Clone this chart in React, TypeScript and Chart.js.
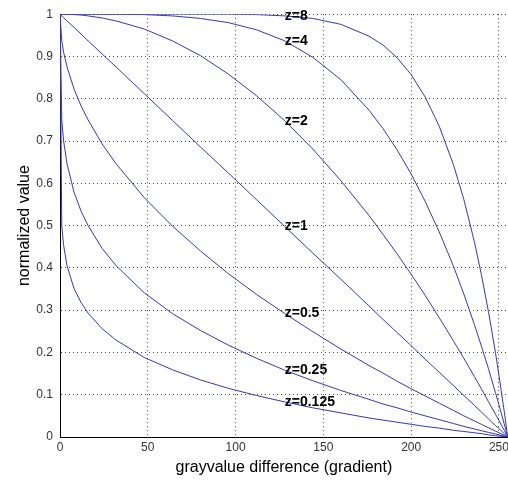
import React, { useEffect, useRef } from "react";
import { Chart, registerables } from "chart.js";

Chart.register(...registerables);

// x positions (grayvalue difference) at which values were read
const xValues = [0, 1, 2, 4, 8, 12, 16, 24, 32, 48, 64, 80, 96, 112, 128, 144, 160, 176, 184, 192, 200, 208, 216, 224, 230, 236, 240, 244, 248, 250, 253, 255];

const seriesZ8 = [1, 1, 1, 1, 1, 1, 1, 1, 1, 1, 1, 1, 1.0, 0.999, 0.996, 0.99, 0.976, 0.948, 0.927, 0.897, 0.857, 0.804, 0.735, 0.645, 0.562, 0.462, 0.384, 0.297, 0.2, 0.146, 0.061, 0];
const seriesZ4 = [1, 1, 1, 1, 1, 1, 1, 1, 1.0, 0.999, 0.996, 0.99, 0.98, 0.963, 0.937, 0.898, 0.845, 0.773, 0.729, 0.679, 0.622, 0.557, 0.485, 0.405, 0.338, 0.266, 0.215, 0.162, 0.105, 0.076, 0.031, 0];
const seriesZ2 = [1, 1, 1, 1, 0.999, 0.998, 0.996, 0.991, 0.984, 0.965, 0.937, 0.902, 0.858, 0.807, 0.748, 0.681, 0.606, 0.524, 0.479, 0.433, 0.385, 0.335, 0.282, 0.228, 0.186, 0.143, 0.114, 0.084, 0.054, 0.039, 0.016, 0];
const seriesZ1 = [1, 0.996, 0.992, 0.984, 0.969, 0.953, 0.937, 0.906, 0.875, 0.812, 0.749, 0.686, 0.624, 0.561, 0.498, 0.435, 0.373, 0.31, 0.278, 0.247, 0.216, 0.184, 0.153, 0.122, 0.098, 0.075, 0.059, 0.043, 0.027, 0.02, 0.008, 0];
const seriesZ05 = [1, 0.937, 0.911, 0.875, 0.823, 0.783, 0.75, 0.693, 0.646, 0.566, 0.499, 0.44, 0.386, 0.337, 0.292, 0.249, 0.208, 0.169, 0.151, 0.132, 0.114, 0.097, 0.08, 0.063, 0.05, 0.038, 0.03, 0.022, 0.014, 0.01, 0.004, 0];
const seriesZ025 = [1, 0.75, 0.702, 0.646, 0.579, 0.534, 0.5, 0.446, 0.405, 0.341, 0.292, 0.252, 0.217, 0.186, 0.158, 0.133, 0.11, 0.089, 0.078, 0.069, 0.059, 0.05, 0.041, 0.032, 0.025, 0.019, 0.015, 0.011, 0.007, 0.005, 0.002, 0];
const seriesZ0125 = [1, 0.5, 0.455, 0.405, 0.351, 0.318, 0.293, 0.256, 0.229, 0.188, 0.159, 0.135, 0.115, 0.098, 0.083, 0.069, 0.057, 0.045, 0.04, 0.035, 0.03, 0.025, 0.021, 0.016, 0.013, 0.01, 0.008, 0.005, 0.003, 0.002, 0.001, 0];

const seriesNames = ["z=8", "z=4", "z=2", "z=1", "z=0.5", "z=0.25", "z=0.125"];
const seriesList = [seriesZ8, seriesZ4, seriesZ2, seriesZ1, seriesZ05, seriesZ025, seriesZ0125];

const labelAtX = 128;

const xTicks = [0, 50, 100, 150, 200, 250];
const yTicks = [0, 0.1, 0.2, 0.3, 0.4, 0.5, 0.6, 0.7, 0.8, 0.9, 1];
const yTickLabels = ["0", "0.1", "0.2", "0.3", "0.4", "0.5", "0.6", "0.7", "0.8", "0.9", "1"];

const FONT = "Arial, 'Liberation Sans', sans-serif";
const LINE_COLOR = "#3636bc";

const curveLabels = {
  id: "curveLabels",
  afterDatasetsDraw(chart: any) {
    const { ctx, scales } = chart;
    const idx = xValues.indexOf(labelAtX);
    ctx.save();
    ctx.font = `bold 14px ${FONT}`;
    ctx.fillStyle = "#000";
    ctx.textAlign = "left";
    ctx.textBaseline = "middle";
    seriesList.forEach((s, i) => {
      const px = scales.x.getPixelForValue(labelAtX);
      const py = scales.y.getPixelForValue(s[idx]);
      ctx.fillText(seriesNames[i], px, py);
    });
    ctx.restore();
  },
};

export default function App() {
  const ref = useRef<HTMLCanvasElement>(null);
  useEffect(() => {
    document.body.style.margin = "0";
    const chart = new Chart(ref.current!, {
      type: "line",
      data: {
        datasets: seriesList.map((s, i) => ({
          label: seriesNames[i],
          data: s.map((v, j) => ({ x: xValues[j], y: v })),
          borderColor: LINE_COLOR,
          borderWidth: 1,
          pointRadius: 0,
          tension: 0,
          fill: false,
        })),
      },
      options: {
        animation: false,
        responsive: false,
        layout: { padding: { top: 14, right: 2, left: 0, bottom: 0 } },
        plugins: { legend: { display: false }, tooltip: { enabled: false } },
        scales: {
          x: {
            type: "linear",
            min: 0,
            max: 255,
            afterBuildTicks: (scale: any) => {
              scale.ticks = xTicks.map((v) => ({ value: v }));
            },
            afterFit: (scale: any) => {
              scale.height = 44;
            },
            ticks: {
              font: { family: FONT, size: 12 },
              color: "#333",
              padding: 3,
              maxRotation: 0,
              autoSkip: false,
            },
            grid: { color: "#444", lineWidth: 1, drawTicks: false },
            border: { display: true, color: "#000", width: 1, dash: [1, 3] },
            title: {
              display: true,
              text: "grayvalue difference (gradient)",
              font: { family: FONT, size: 16 },
              color: "#000",
              padding: { top: 0, bottom: 4 },
            },
          },
          y: {
            type: "linear",
            min: 0,
            max: 1,
            afterBuildTicks: (scale: any) => {
              scale.ticks = yTicks.map((v) => ({ value: v }));
            },
            afterFit: (scale: any) => {
              scale.width = 60;
            },
            ticks: {
              font: { family: FONT, size: 12 },
              color: "#333",
              padding: 7,
              autoSkip: false,
              callback: (_v: any, i: number) => yTickLabels[i],
            },
            grid: { color: "#444", lineWidth: 1, drawTicks: false },
            border: { display: true, color: "#000", width: 1, dash: [1, 3] },
            title: {
              display: true,
              text: "normalized value",
              font: { family: FONT, size: 16 },
              color: "#000",
              padding: { top: 15, bottom: 0 },
            },
          },
        },
      },
      plugins: [curveLabels],
    });
    return () => chart.destroy();
  }, []);
  return (
    <div style={{ width: 508, height: 481, overflow: "hidden", background: "#fff" }}>
      <canvas ref={ref} width={512} height={481} style={{ display: "block", width: 512, height: 481 }} />
    </div>
  );
}
